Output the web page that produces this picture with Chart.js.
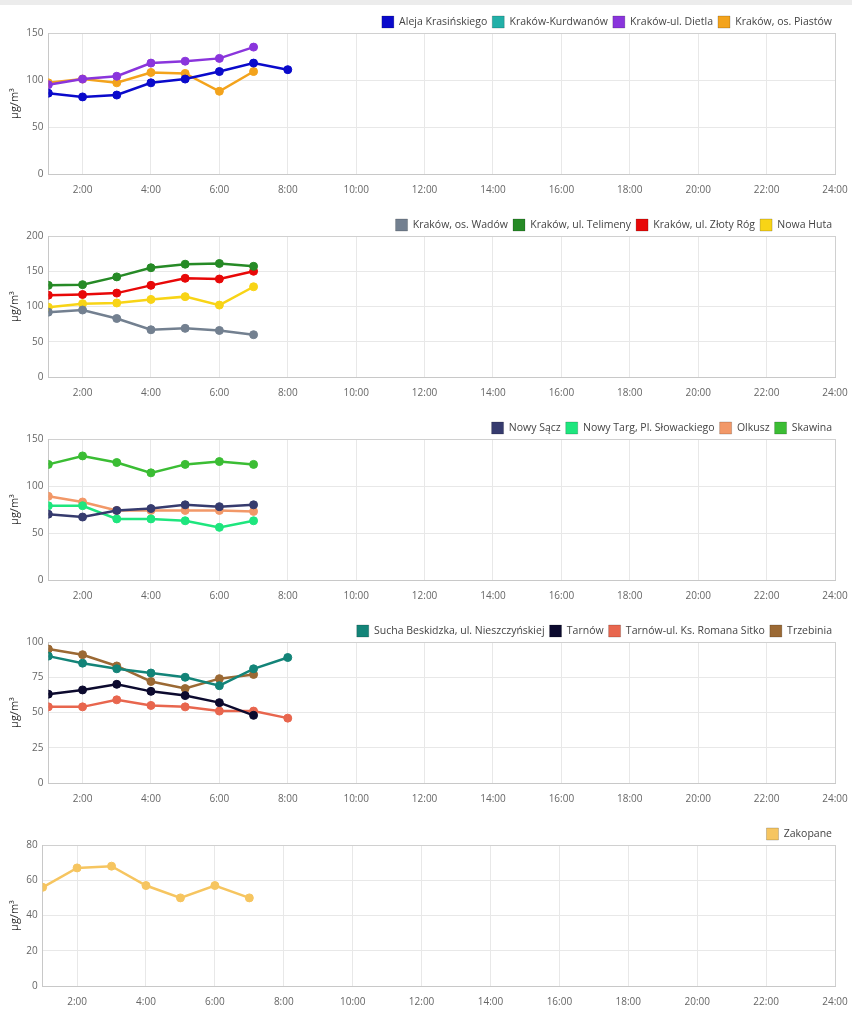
<!DOCTYPE html>
<html>
<head>
<meta charset="utf-8">
<script src="https://cdn.jsdelivr.net/npm/chart.js@4"></script>
<style>
  body { margin: 0; background: #fff; overflow: hidden; }
  #topbar { height: 5px; background: #ececec; }
  .box { position: absolute; left: 0; width: 852px; height: 203px; }
</style>
</head>
<body>
<div id="topbar"></div>
<div class="box" style="top:5px"><canvas id="chart1"></canvas></div>
<div class="box" style="top:208px"><canvas id="chart2"></canvas></div>
<div class="box" style="top:411px"><canvas id="chart3"></canvas></div>
<div class="box" style="top:614px"><canvas id="chart4"></canvas></div>
<div class="box" style="top:817px"><canvas id="chart5"></canvas></div>
<script>
// hours of the day (x values)
const hours = [1, 2, 3, 4, 5, 6, 7, 8];
const xTickHours = [2, 4, 6, 8, 10, 12, 14, 16, 18, 20, 22, 24];

// chart 1
const alejaKrasinskiego = [86, 82, 84, 97, 101, 109, 118, 111];
const krakowKurdwanow = [];
const krakowDietla = [95, 101, 104, 118, 120, 123, 135];
const krakowPiastow = [97, 101, 97, 108, 107, 88, 109];
const yTicks1 = [0, 50, 100, 150];

// chart 2
const krakowWadow = [92, 95, 83, 67, 69, 66, 60];
const krakowTelimeny = [130, 131, 142, 155, 160, 161, 157];
const krakowZlotyRog = [116, 117, 119, 130, 140, 139, 150];
const nowaHuta = [99, 104, 105, 110, 114, 102, 128];
const yTicks2 = [0, 50, 100, 150, 200];

// chart 3
const nowySacz = [70, 67, 74, 76, 80, 78, 80];
const nowyTarg = [79, 79, 65, 65, 63, 56, 63];
const olkusz = [89, 83, 74, 74, 74, 74, 73];
const skawina = [123, 132, 125, 114, 123, 126, 123];
const yTicks3 = [0, 50, 100, 150];

// chart 4
const suchaBeskidzka = [90, 85, 81, 78, 75, 69, 81, 89];
const tarnow = [63, 66, 70, 65, 62, 57, 48];
const tarnowSitko = [54, 54, 59, 55, 54, 51, 51, 46];
const trzebinia = [95, 91, 83, 72, 67, 74, 77];
const yTicks4 = [0, 25, 50, 75, 100];

// chart 5
const zakopane = [56, 67, 68, 57, 50, 57, 50];
const yTicks5 = [0, 20, 40, 60, 80];

Chart.defaults.font.family = "'Open Sans', sans-serif";

// legend takes a bit less room than chart.js gives it
const shrinkLegend = {
    id: 'shrinkLegend',
    beforeInit: function (chart) {
        let origFit = chart.legend.fit;
        chart.legend.fit = function () {
            origFit.call(this);
            this.height -= 5;
        };
    }
};

function series(label, values, color) {
    return {
        label: label,
        data: values.map((v, i) => ({ x: hours[i], y: v })),
        borderColor: color,
        backgroundColor: color,
        borderWidth: 2.5,
        pointRadius: 4,
        pointBorderWidth: 1,
        tension: 0,
        fill: false
    };
}

function makeChart(id, datasets, yTicks) {
    let ctx = document.getElementById(id).getContext('2d');
    let yMax = yTicks[yTicks.length - 1];
    return new Chart(ctx, {
        type: 'line',
        data: { datasets: datasets },
        plugins: [shrinkLegend],
        options: {
            animation: false,
            responsive: true,
            maintainAspectRatio: false,
            layout: { padding: { top: 6, left: 4, right: 15, bottom: 2 } },
            plugins: {
                tooltip: { enabled: false },
                legend: {
                    position: 'top',
                    align: 'end',
                    labels: {
                        boxWidth: 12,
                        boxHeight: 12,
                        padding: 5,
                        color: '#444',
                        font: { size: 10.5 },
                        generateLabels: function (chart) {
                            let items = Chart.defaults.plugins.legend.labels.generateLabels(chart);
                            items.forEach(it => {
                                it.lineWidth = 1;
                                it.strokeStyle = 'rgba(0,0,0,0.18)';
                            });
                            return items;
                        }
                    }
                }
            },
            scales: {
                x: {
                    type: 'linear',
                    min: 1,
                    max: 24,
                    afterBuildTicks: function (scale) {
                        scale.ticks = xTickHours.map(v => ({ value: v }));
                    },
                    afterFit: function (scale) {
                        scale.paddingRight = 17;
                    },
                    ticks: {
                        color: '#666',
                        font: { size: 10 },
                        padding: 10,
                        maxRotation: 0,
                        autoSkip: false,
                        callback: v => v + ':00'
                    },
                    grid: {
                        drawTicks: false,
                        color: c => (c.tick && c.tick.value === 24 ? '#d0d0d0' : '#e8e8e8')
                    },
                    border: { color: '#c8c8c8' }
                },
                y: {
                    min: 0,
                    max: yMax,
                    afterBuildTicks: function (scale) {
                        scale.ticks = yTicks.map(v => ({ value: v }));
                    },
                    ticks: {
                        color: '#666',
                        font: { size: 10 },
                        padding: 5
                    },
                    grid: {
                        drawTicks: false,
                        color: c => (c.tick && c.tick.value === yMax ? '#d0d0d0' : '#e8e8e8')
                    },
                    border: { color: '#c8c8c8' },
                    title: {
                        display: true,
                        text: 'μg/m³',
                        color: '#333',
                        font: { size: 11 },
                        padding: { top: 4, bottom: 0 }
                    }
                }
            }
        }
    });
}

makeChart('chart1', [
    series('Aleja Krasińskiego', alejaKrasinskiego, '#0a0acb'),
    series('Kraków-Kurdwanów', krakowKurdwanow, '#22b0a8'),
    series('Kraków-ul. Dietla', krakowDietla, '#8a35dc'),
    series('Kraków, os. Piastów', krakowPiastow, '#f3a31c')
], yTicks1);

makeChart('chart2', [
    series('Kraków, os. Wadów', krakowWadow, '#738090'),
    series('Kraków, ul. Telimeny', krakowTelimeny, '#268a26'),
    series('Kraków, ul. Złoty Róg', krakowZlotyRog, '#e80808'),
    series('Nowa Huta', nowaHuta, '#f8d416')
], yTicks2);

makeChart('chart3', [
    series('Nowy Sącz', nowySacz, '#363b6e'),
    series('Nowy Targ, Pl. Słowackiego', nowyTarg, '#1ee67e'),
    series('Olkusz', olkusz, '#f29868'),
    series('Skawina', skawina, '#3bbd34')
], yTicks3);

makeChart('chart4', [
    series('Sucha Beskidzka, ul. Nieszczyńskiej', suchaBeskidzka, '#138478'),
    series('Tarnów', tarnow, '#0c0a2e'),
    series('Tarnów-ul. Ks. Romana Sitko', tarnowSitko, '#e8664e'),
    series('Trzebinia', trzebinia, '#9b6934')
], yTicks4);

makeChart('chart5', [
    series('Zakopane', zakopane, '#f6c560')
], yTicks5);
</script>
</body>
</html>
